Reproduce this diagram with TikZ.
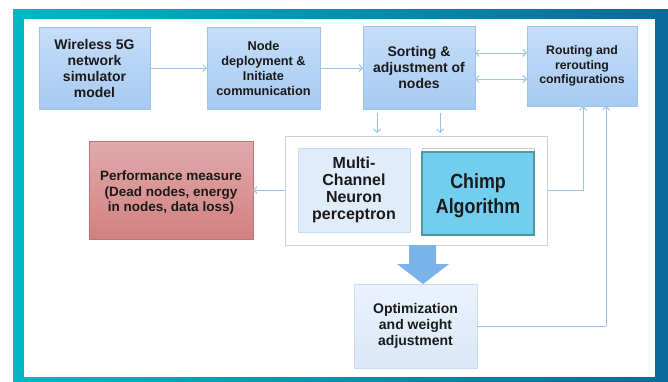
\documentclass[tikz,border=0pt]{standalone}
\usepackage{fontspec}
\setmainfont{Liberation Sans}
\newfontfamily\narrowfont{Liberation Sans}[FakeStretch=0.87]
\usetikzlibrary{arrows.meta}

\definecolor{boxtop}{HTML}{C6DDF8}
\definecolor{boxbot}{HTML}{A6CAF1}
\definecolor{boxline}{HTML}{9DC3EA}
\definecolor{arrline}{HTML}{9CC3EC}
\definecolor{framel}{HTML}{00B7C6}
\definecolor{framer}{HTML}{09699A}
\definecolor{perftop}{HTML}{E0AAAA}
\definecolor{perfbot}{HTML}{D38080}
\definecolor{perfline}{HTML}{C77272}
\definecolor{chimpfill}{HTML}{72CDEF}
\definecolor{chimpline}{HTML}{4C9A9C}
\definecolor{mlpfill}{HTML}{E1ECFA}
\definecolor{mlpline}{HTML}{C9DCF3}
\definecolor{opttop}{HTML}{EBF2FC}
\definecolor{optbot}{HTML}{DAE7F8}
\definecolor{blockarrow}{HTML}{7AB2EA}
\definecolor{txt}{HTML}{1A1A1A}

\tikzset{
  every node/.style={inner sep=0pt, outer sep=0pt, align=center, text=txt},
  bluebox/.style={draw=boxline, line width=0.8pt, top color=boxtop, bottom color=boxbot,
    font=\fontsize{14}{16}\selectfont\bfseries},
  arr/.style={draw=arrline, line width=0.9pt, -{Straight Barb[length=3.5pt,width=7pt]}},
  darr/.style={draw=arrline, line width=0.9pt, {Straight Barb[length=3.5pt,width=7pt]}-{Straight Barb[length=3.5pt,width=7pt]}},
  feed/.style={draw=arrline, line width=0.9pt},
}

\begin{document}
\begin{tikzpicture}[x=1pt, y=-1pt]
\useasboundingbox (0,0) rectangle (668,381);
% coloured frame
\fill[left color=framel, right color=framer] (13,9) rectangle (668,381);
\fill[white] (24,19) rectangle (655,377);

% top row
\node[bluebox, minimum width=111pt, minimum height=82pt] (sim) at (94.5,68) {Wireless 5G\\network\\simulator\\model};
\node[bluebox, minimum width=113pt, minimum height=82pt, font=\fontsize{12.75}{15}\selectfont\bfseries] (dep) at (263.5,68) {Node\\deployment \&\\Initiate\\communication};
\node[bluebox, minimum width=112pt, minimum height=83pt] (sort) at (419,67.5) {Sorting \&\\adjustment of\\nodes};
\node[bluebox, minimum width=110pt, minimum height=80pt, font=\fontsize{12.3}{14.5}\selectfont\bfseries] (route) at (582,66) {Routing and\\rerouting\\configurations};

% learning block
\node[draw=black!18, fill=white, line width=0.8pt, minimum width=262pt, minimum height=109pt] (core) at (416,190.5) {};
\node[draw=mlpline, fill=mlpfill, line width=0.8pt, minimum width=112pt, minimum height=84pt,
  font=\fontsize{16}{17}\selectfont\bfseries] (mlp) at (354,190) {Multi-\\Channel\\Neuron\\perceptron};
\node[draw=black!20, line width=0.5pt, minimum width=112pt, minimum height=87pt] (chimpshade) at (478,191.5) {};
\node[draw=chimpline, fill=chimpfill, line width=1.3pt, minimum width=112pt, minimum height=83pt] (chimp) at (478,193.5) {};
\node[font=\narrowfont\fontsize{20.5}{25}\selectfont\bfseries] (chimptext) at (478,196) {Chimp\\Algorithm};

% result
\node[draw=perfline, top color=perftop, bottom color=perfbot, line width=0.8pt,
  minimum width=164pt, minimum height=98pt] (perf) at (171,190) {};
\node[font=\fontsize{13.5}{15.5}\selectfont\bfseries] (perftext) at (171,193)
  {Performance measure\\(Dead nodes, energy\\in nodes, data loss)};

\node[draw=mlpline, top color=opttop, bottom color=optbot, line width=0.8pt,
  minimum width=123pt, minimum height=84pt, font=\fontsize{14}{16}\selectfont\bfseries] (opt) at (415.5,326)
  {Optimization\\and weight\\adjustment};

% helper coordinates for parallel connectors
\coordinate (upper) at (0,53);
\coordinate (lower) at (0,79);
\coordinate (lx) at (377,0);
\coordinate (rx) at (440,0);
\coordinate (fa) at (583,0);
\coordinate (fb) at (606,0);

% connectors
\draw[arr] (sim.east) -- (dep.west);
\draw[arr] (dep.east) -- (sort.west |- dep.east);
\draw[darr] (sort.east |- upper) -- (route.west |- upper);
\draw[darr] (sort.east |- lower) -- (route.west |- lower);
\draw[arr, shorten <=4pt, shorten >=3pt] (sort.south -| lx) -- (core.north -| lx);
\draw[arr, shorten <=4pt, shorten >=3pt] (sort.south -| rx) -- (core.north -| rx);
\draw[arr] (core.west |- perf.east) -- (perf.east);
\draw[feed] (core.east |- perf.east) -| (fa |- core.east);
\draw[arr] (fa |- core.east) -- (route.south -| fa);
\draw[feed] (opt.east) -| (fb |- opt.east);
\draw[arr] (fb |- opt.east) -- (route.south -| fb);

% block arrow into the optimisation stage
\fill[blockarrow] (409,245) -- (436,245) -- (436,264) -- (449,264) -- (423,284) -- (397,264) -- (409,264) -- cycle;
\end{tikzpicture}
\end{document}
